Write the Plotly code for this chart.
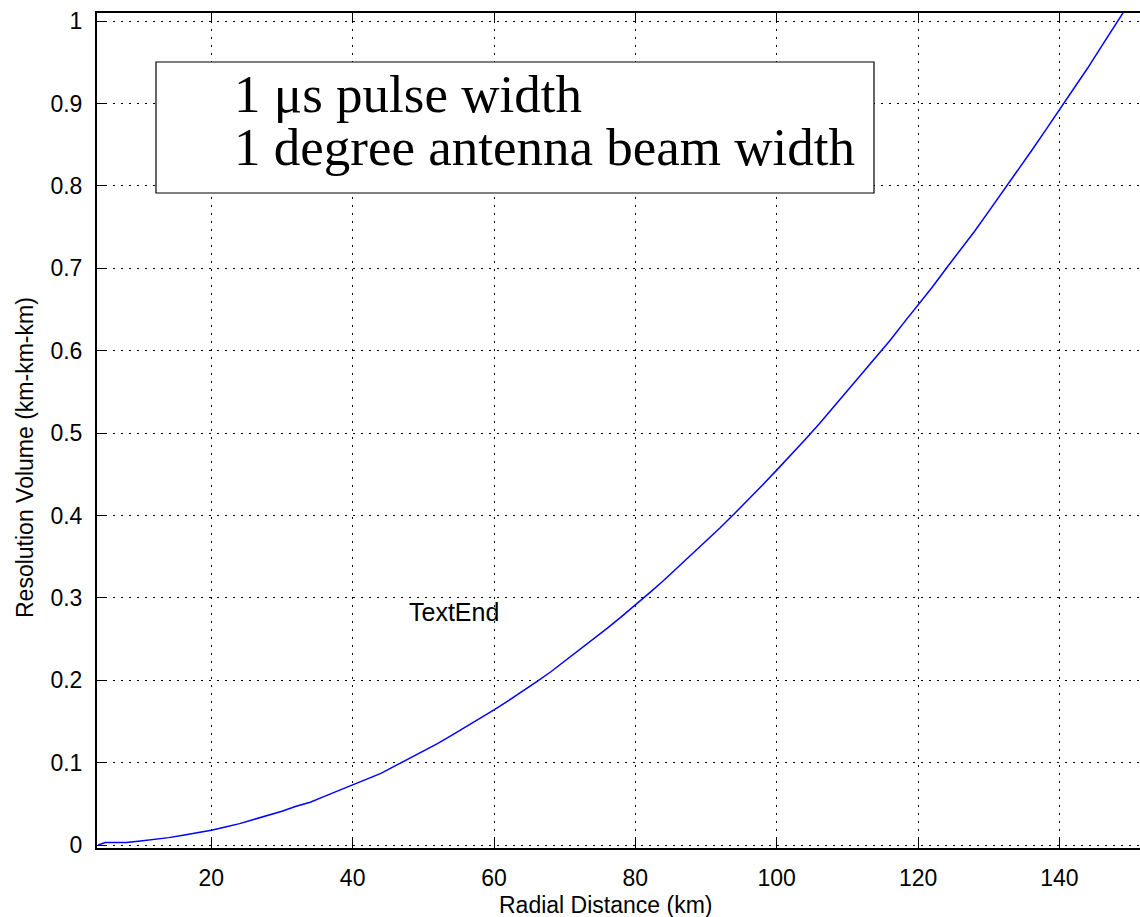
import plotly.graph_objects as go

# Radial distance (km) and resolution volume (km^3)
radial_km = [4, 5, 6, 8, 10, 12, 14, 16, 18, 20, 22, 24, 26, 28, 30, 32, 34, 36, 38, 40,
             42, 44, 46, 48, 50, 52, 54, 56, 58, 60, 62, 64, 66, 68, 70, 72, 74, 76, 78, 80,
             82, 84, 86, 88, 90, 92, 94, 96, 98, 100, 102, 104, 106, 108, 110, 112, 114, 116,
             118, 120, 122, 124, 126, 128, 130, 132, 134, 136, 138, 140, 142, 144, 146, 148, 149]
volume_km3 = [0.000, 0.003, 0.003, 0.003, 0.005, 0.007, 0.009, 0.012, 0.015, 0.018, 0.022,
              0.026, 0.031, 0.036, 0.041, 0.047, 0.052, 0.059, 0.066, 0.073, 0.080, 0.087,
              0.096, 0.105, 0.113, 0.123, 0.133, 0.143, 0.153, 0.164, 0.175, 0.186, 0.198,
              0.210, 0.223, 0.236, 0.249, 0.263, 0.277, 0.291, 0.306, 0.321, 0.337, 0.352,
              0.369, 0.385, 0.402, 0.419, 0.437, 0.455, 0.473, 0.492, 0.511, 0.531, 0.551,
              0.571, 0.591, 0.612, 0.634, 0.655, 0.677, 0.700, 0.722, 0.745, 0.769, 0.793,
              0.817, 0.842, 0.867, 0.892, 0.917, 0.943, 0.970, 0.997, 1.010]

x_ticks = [20, 40, 60, 80, 100, 120, 140]
y_ticks = [0, 0.1, 0.2, 0.3, 0.4, 0.5, 0.6, 0.7, 0.8, 0.9, 1]
y_tick_labels = ["0", "0.1", "0.2", "0.3", "0.4", "0.5", "0.6", "0.7", "0.8", "0.9", "1"]

x_title = "Radial Distance (km)"
y_title = "Resolution Volume (km-km-km)"
box_lines = ["1 \u03bcs pulse width", "1 degree antenna beam width"]
label_text = "TextEnd"
label_pos = (47.7, 0.283)

W, H = 1140, 917
L, R, T, B = 97, 0, 13, 69
PW, PH = W - L - R, H - T - B


def px(xp):
    return (xp - L) / PW


def py(yp):
    return (H - B - yp) / PH


fig = go.Figure()
fig.add_trace(go.Scatter(x=radial_km, y=volume_km3, mode="lines",
                         line=dict(color="#0000ff", width=1.5), showlegend=False))

axis_font = dict(family="Liberation Sans, Arial", size=23, color="black")
grid_dash = "2px,6px"
fig.update_layout(
    width=W, height=H,
    margin=dict(l=L, r=R, t=T, b=B),
    paper_bgcolor="white", plot_bgcolor="white",
    xaxis=dict(range=[3.83, 151.4], tickvals=x_ticks, ticks="inside", ticklen=9,
               tickcolor="black", tickwidth=1, showline=True, linecolor="black",
               linewidth=2, mirror="ticks", showgrid=True, gridcolor="black",
               griddash=grid_dash, gridwidth=1, zeroline=False, tickfont=axis_font,
               ticklabelstandoff=8),
    yaxis=dict(range=[-0.0036, 1.0098], tickvals=y_ticks, ticktext=y_tick_labels,
               ticks="inside", ticklen=9, tickcolor="black", tickwidth=1,
               showline=True, linecolor="black", linewidth=2, mirror=False,
               showgrid=True, gridcolor="black", griddash=grid_dash, gridwidth=1,
               zeroline=False, tickfont=axis_font, ticklabelstandoff=8),
)

# axis titles
fig.add_annotation(xref="paper", yref="paper", x=px(605), y=py(905), text=x_title,
                   showarrow=False, xanchor="center", yanchor="middle", font=axis_font)
fig.add_annotation(xref="paper", yref="paper", x=px(25), y=py(458), text=y_title,
                   showarrow=False, xanchor="center", yanchor="middle", textangle=-90,
                   font=axis_font)

# text box
fig.add_shape(type="rect", xref="paper", yref="paper",
              x0=px(156), x1=px(874), y0=py(193), y1=py(62),
              line=dict(color="black", width=1.2), fillcolor="white", layer="above")
serif = dict(family="Liberation Serif, Times New Roman", size=53, color="black")
fig.add_annotation(xref="paper", yref="paper", x=px(232), y=py(94),
                   text=box_lines[0], showarrow=False, xanchor="left", yanchor="middle",
                   font=serif)
fig.add_annotation(xref="paper", yref="paper", x=px(232), y=py(147),
                   text=box_lines[1], showarrow=False, xanchor="left", yanchor="middle",
                   font=serif)
fig.add_annotation(x=label_pos[0], y=label_pos[1], text=label_text, showarrow=False,
                   xanchor="left", yanchor="middle",
                   font=dict(family="Liberation Sans, Arial", size=25, color="black"))

fig.write_html("out.html")
